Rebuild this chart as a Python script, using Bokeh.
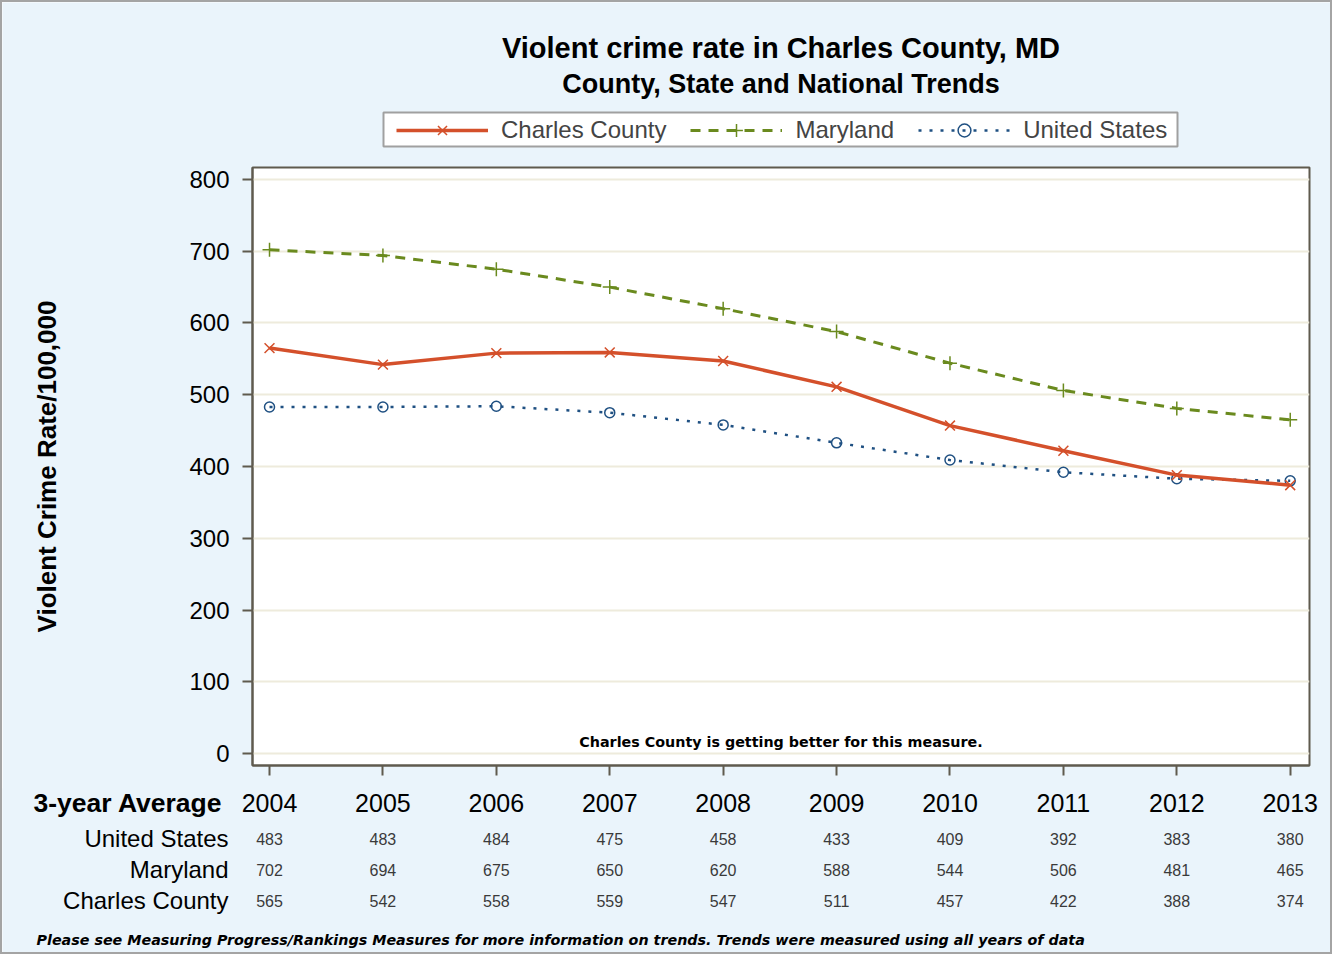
from bokeh.plotting import figure
from bokeh.models import (ColumnDataSource, Label, Legend, LegendItem, FixedTicker, Range1d)
from bokeh.core.properties import value
from bokeh.embed import file_html
from bokeh.resources import INLINE

# ---------------- data ----------------
years = [2004, 2005, 2006, 2007, 2008, 2009, 2010, 2011, 2012, 2013]
charles = [565, 542, 558, 559, 547, 511, 457, 422, 388, 374]
maryland = [702, 694, 675, 650, 620, 588, 544, 506, 481, 465]
united_states = [483, 483, 484, 475, 458, 433, 409, 392, 383, 380]
y_ticks = [0, 100, 200, 300, 400, 500, 600, 700, 800]
series_names = ["Charles County", "Maryland", "United States"]
row_names = ["United States", "Maryland", "Charles County"]
row_values = [united_states, maryland, charles]

title1 = "Violent crime rate in Charles County, MD"
title2 = "County, State and National Trends"
note = "Charles County is getting better for this measure."
table_head = "3-year Average"
footnote = ("Please see Measuring Progress/Rankings Measures for more information on trends. "
            "Trends were measured using all years of data")

# ---------------- layout constants ----------------
FONT = "Liberation Sans"
NOTE_FONT = "DejaVu Sans"
W = 1332
HEAD_H, MAIN_H, TABLE_H = 160, 630, 166
FL, FR, FT, FB = 250, 1307, 8, 606        # main plot frame inside the main figure
X0, X1 = 2003.85, 2013.17
Y0, Y1 = -16.7, 816.7

RED = "#D4502B"
GREEN = "#6A8A1E"
BLUE = "#1F5082"
FRAME = "#5F5A4E"
BG = "#EAF4FB"
EDGE = "2px solid #A4A4A4"

px_per_year = (FR - FL) / (X1 - X0)
TX0 = X0 - FL / px_per_year
TX1 = X0 + (W - FL) / px_per_year


def tx(px):
    return TX0 + px / px_per_year


def canvas(height, styles):
    f = figure(width=W, height=height, x_range=Range1d(TX0, TX1), y_range=Range1d(height, 0),
               output_backend="svg", toolbar_location=None, title_location=None,
               x_axis_location=None, y_axis_location=None,
               min_border_left=0, min_border_right=0, min_border_top=0, min_border_bottom=0,
               background_fill_color=BG, border_fill_color=BG, outline_line_color=None)
    f.grid.visible = False
    f.styles = styles
    return f


# ---------------- header: titles + legend ----------------
head = canvas(HEAD_H, {"border-top": EDGE, "border-left": EDGE, "border-right": EDGE})
mid = (X0 + X1) / 2
head.text(x=[mid], y=[45], text=[title1], text_align="center", text_baseline="middle",
          text_font=value(FONT), text_font_style="bold", text_font_size="29px",
          text_color="black")
head.text(x=[mid], y=[81], text=[title2], text_align="center", text_baseline="middle",
          text_font=value(FONT), text_font_style="bold", text_font_size="27px",
          text_color="black")

# legend frame
head.quad(left=[tx(381)], right=[tx(1175)], top=[110], bottom=[144],
          fill_color="white", line_color="#A0A0A0", line_width=2)

# legend renderers (their data lie outside this strip's range, so only the legend shows them)
lg_cc = [head.line(years, charles, line_color=RED, line_width=3.5),
         head.scatter(years, charles, marker="x", size=14, line_color=RED, line_width=1.5)]
lg_md = [head.line(years, maryland, line_color=GREEN, line_width=3, line_dash="10 8"),
         head.scatter(years, maryland, marker="cross", size=14, line_color=GREEN, line_width=1.5)]
lg_us = [head.line(years, united_states, line_color=BLUE, line_width=2.5, line_dash="3 8"),
         head.scatter(years, united_states, marker="circle", size=10, line_color=BLUE,
                      fill_color=None, line_width=1.5)]
legend = Legend(items=[LegendItem(label=series_names[0], renderers=lg_cc),
                       LegendItem(label=series_names[1], renderers=lg_md),
                       LegendItem(label=series_names[2], renderers=lg_us)],
                orientation="horizontal", location=(394, HEAD_H - 144),
                glyph_width=92, glyph_height=32, label_height=32,
                label_standoff=13, spacing=24, padding=0, margin=0,
                label_text_font=FONT, label_text_font_size="24px",
                border_line_color=None, background_fill_alpha=0)
head.add_layout(legend)

# ---------------- main chart ----------------
p = figure(width=W, height=MAIN_H, x_range=Range1d(X0, X1), y_range=Range1d(Y0, Y1),
           output_backend="svg", toolbar_location=None, title_location=None,
           min_border_left=FL, min_border_right=W - FR,
           min_border_top=FT, min_border_bottom=MAIN_H - FB,
           background_fill_color="white", border_fill_color=BG,
           outline_line_color=FRAME, outline_line_width=2)
p.styles = {"border-left": EDGE, "border-right": EDGE, "margin-top": "-1px"}

p.xgrid.visible = False
p.ygrid.grid_line_color = "#EEEBDC"
p.ygrid.grid_line_width = 2

for ax in (p.xaxis[0], p.yaxis[0]):
    ax.axis_line_color = FRAME
    ax.axis_line_width = 2
    ax.major_tick_line_color = FRAME
    ax.major_tick_line_width = 2
    ax.major_tick_in = 0
    ax.major_tick_out = 10
    ax.minor_tick_line_color = None
    ax.major_label_text_font = FONT
    ax.major_label_text_color = "black"
    ax.major_label_text_font_size = "24px"

p.xaxis.ticker = FixedTicker(ticks=years)
p.xaxis.major_label_text_color = None        # year labels are drawn in the table below
p.xaxis.major_label_text_font_size = "10px"
p.xaxis.major_label_standoff = 0
p.yaxis.ticker = FixedTicker(ticks=y_ticks)
p.yaxis.major_label_standoff = 13
p.yaxis.axis_label = "Violent Crime Rate/100,000"
p.yaxis.axis_label_text_font = FONT
p.yaxis.axis_label_text_font_style = "bold"
p.yaxis.axis_label_text_font_size = "26px"
p.yaxis.axis_label_text_color = "black"
p.yaxis.axis_label_standoff = 124

p.line(years, united_states, line_color=BLUE, line_width=2.5, line_dash="3 8")
p.scatter(years, united_states, marker="circle", size=10, line_color=BLUE,
          fill_color=None, line_width=1.5)
p.line(years, maryland, line_color=GREEN, line_width=3, line_dash="10 8")
p.scatter(years, maryland, marker="cross", size=14, line_color=GREEN, line_width=1.5)
p.line(years, charles, line_color=RED, line_width=3.5)
p.scatter(years, charles, marker="x", size=14, line_color=RED, line_width=1.5)

p.add_layout(Label(x=mid, y=0, y_offset=4, text=note, text_align="center",
                   text_baseline="bottom", text_font=NOTE_FONT, text_font_style="bold",
                   text_font_size="14.3px", text_color="black"))

# ---------------- table under the chart ----------------
t = canvas(TABLE_H, {"border-bottom": EDGE, "border-left": EDGE, "border-right": EDGE,
                     "margin-top": "-1px"})

year_y = 14
t.text(x="x", y="y", text="t",
       source=ColumnDataSource(dict(x=years, y=[year_y] * len(years), t=[str(y) for y in years])),
       text_align="center", text_baseline="middle",
       text_font=value(FONT), text_font_size="25px", text_color="black")
t.text(x=[tx(220)], y=[year_y], text=[table_head], text_align="right", text_baseline="middle",
       text_font=value(FONT), text_font_style="bold", text_font_size="26.5px", text_color="black")

row_y = [50, 81, 112]
t.text(x=[tx(226)] * 3, y=row_y, text=row_names, text_align="right", text_baseline="middle",
       text_font=value(FONT), text_font_size="24px", text_color="black")

vx, vy, vt = [], [], []
for vals, yy in zip(row_values, row_y):
    for yr, v in zip(years, vals):
        vx.append(yr)
        vy.append(yy)
        vt.append(str(v))
t.text(x="x", y="y", text="t", source=ColumnDataSource(dict(x=vx, y=vy, t=vt)),
       text_align="center", text_baseline="middle",
       text_font=value(FONT), text_font_size="16px", text_color="#3A3A3A")

t.text(x=[tx(34)], y=[151], text=[footnote], text_align="left", text_baseline="middle",
       text_font=value(NOTE_FONT), text_font_style="bold italic", text_font_size="14.3px",
       text_color="black")

open("out.html", "w").write(file_html([head, p, t], INLINE))
